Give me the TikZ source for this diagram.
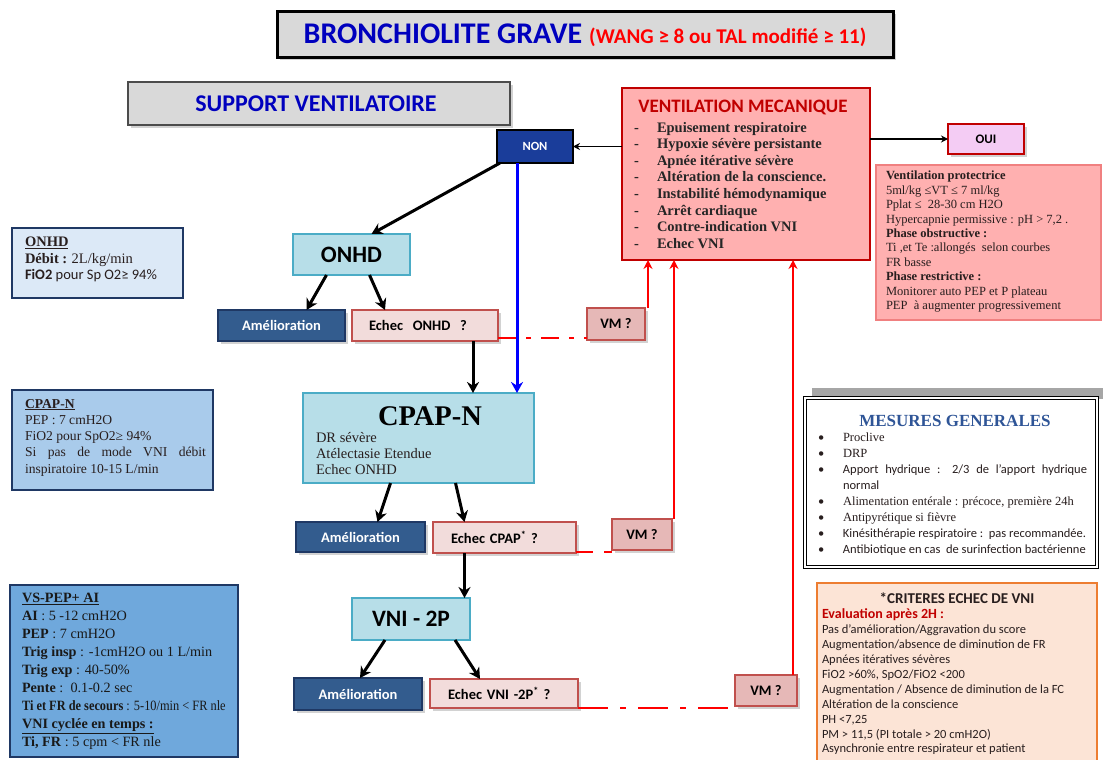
\documentclass[tikz,border=0pt]{standalone}
\usepackage{fontspec}
\usepackage{graphicx}
\setmainfont{Carlito}
\newfontfamily\cam{Liberation Serif}
\usetikzlibrary{arrows.meta,shadows}
\definecolor{tblue}{RGB}{0,0,190}
\definecolor{tred}{RGB}{255,0,0}
\definecolor{dred}{RGB}{192,0,0}
\definecolor{vmfill}{RGB}{255,176,176}
\definecolor{nonfill}{RGB}{26,61,154}
\definecolor{ouifill}{RGB}{244,204,244}
\definecolor{vpfill}{RGB}{255,176,176}
\definecolor{vpdraw}{RGB}{240,128,128}
\definecolor{infofill}{RGB}{220,233,247}
\definecolor{navy}{RGB}{31,56,100}
\definecolor{cyanfill}{RGB}{183,222,232}
\definecolor{cyandraw}{RGB}{75,172,198}
\definecolor{amelfill}{RGB}{51,92,142}
\definecolor{echfill}{RGB}{242,220,219}
\definecolor{echdraw}{RGB}{192,80,77}
\definecolor{vmqfill}{RGB}{230,184,183}
\definecolor{cpapfill}{RGB}{169,203,235}
\definecolor{vsfill}{RGB}{111,168,220}
\definecolor{mesblue}{RGB}{47,85,151}
\definecolor{critfill}{RGB}{252,228,214}
\definecolor{critdraw}{RGB}{237,125,49}
\definecolor{bodytxt}{RGB}{40,30,30}
\begin{document}
\begin{tikzpicture}[x=1pt,y=-1pt,
  shad/.style={drop shadow={shadow xshift=2.5pt,shadow yshift=-2.5pt,fill=black!35}},
  basebox/.style={inner sep=0pt,outer sep=0pt},
  titlebox/.style={basebox,draw=black,fill=black!15,line width=3pt,shad},
  vmbox/.style={basebox,draw=dred,fill=vmfill,line width=2.5pt},
  nonbox/.style={basebox,draw=black,fill=nonfill,line width=1.5pt,text=white,font=\bfseries\fontsize{12.5}{14}\selectfont},
  ouibox/.style={basebox,draw=dred,fill=ouifill,line width=2.5pt,shad,font=\bfseries\fontsize{13}{14}\selectfont},
  vpbox/.style={basebox,draw=vpdraw,fill=vpfill,line width=1.5pt},
  infobox/.style={basebox,draw=navy,line width=2.5pt},
  mainbox/.style={basebox,draw=cyandraw,fill=cyanfill,line width=2pt},
  amelbox/.style={basebox,draw=navy,fill=amelfill,line width=1.5pt,shad,text=white,font=\bfseries\fontsize{14.5}{16}\selectfont},
  echbox/.style={basebox,draw=echdraw,fill=echfill,line width=2pt,shad,inner xsep=17pt,align=left,font=\bfseries\fontsize{14.5}{16}\selectfont},
  vmqbox/.style={basebox,draw=echdraw,fill=vmqfill,line width=2pt,shad,font=\bfseries\fontsize{14.5}{16}\selectfont},
  txt/.style={inner sep=0pt,outer sep=0pt,anchor=north west,align=left,text=bodytxt},
  blk/.style={draw=black,line width=3pt,-{Stealth[length=11pt,width=12pt]}},
  thin/.style={draw=black,line width=1.5pt,-{Stealth[length=7pt,width=7pt]}},
  redup/.style={draw=tred,line width=2.5pt,-{Stealth[length=9pt,width=9pt]}},
  reddd/.style={draw=tred,line width=2.5pt,dash pattern=on 18pt off 10pt on 5pt off 10pt},
]
\useasboundingbox (0,0) rectangle (1103,760);

% title
\node[titlebox,minimum width=616pt,minimum height=46pt] (title) at (585,35)
  {{\color{tblue}\bfseries\fontsize{30}{32}\selectfont BRONCHIOLITE GRAVE}\hspace{7pt}{\color{tred}\bfseries\fontsize{21}{23}\selectfont (WANG ≥ 8 ou TAL modifié ≥ 11)}};

% support ventilatoire
\node[basebox,draw=black!70,fill=black!15,line width=2pt,shad,minimum width=382pt,minimum height=43pt] (support) at (319,103.5) {};
\node[inner sep=0pt,text=tblue,font=\bfseries\fontsize{24}{26}\selectfont] (supporttxt) at (316,104) {SUPPORT VENTILATOIRE};

% ventilation mecanique
\node[vmbox,minimum width=248pt,minimum height=172pt] (vm) at (746,174) {};
\node[inner sep=0pt,text=dred,font=\bfseries\fontsize{19}{21}\selectfont] (vmtitle) at (743,107) {VENTILATION MECANIQUE};
\node[txt,text=black!85,font=\cam\bfseries\fontsize{14.5}{16.6}\selectfont] (vmlist) at (634,122)
  {\makebox[23pt][l]{-}Epuisement respiratoire\\
   \makebox[23pt][l]{-}Hypoxie sévère persistante\\
   \makebox[23pt][l]{-}Apnée itérative sévère\\
   \makebox[23pt][l]{-}Altération de la conscience.\\
   \makebox[23pt][l]{-}Instabilité hémodynamique\\
   \makebox[23pt][l]{-}Arrêt cardiaque\\
   \makebox[23pt][l]{-}Contre-indication VNI\\
   \makebox[23pt][l]{-}Echec VNI};

% NON / OUI
\node[nonbox,minimum width=76pt,minimum height=33pt] (non) at (535,146.5) {NON};
\node[ouibox,minimum width=76pt,minimum height=30pt] (oui) at (986,139) {OUI};

% ventilation protectrice
\node[vpbox,minimum width=225pt,minimum height=155pt] (vp) at (988.5,242.5) {};
\node[txt,font=\cam\fontsize{12.5}{14.45}\selectfont] (vptxt) at (886,171)
  {\textbf{Ventilation protectrice}\\
   5ml/kg ≤VT ≤ 7 ml/kg\\
   Pplat ≤\ \ 28-30 cm H2O\\
   Hypercapnie permissive : pH > 7,2 .\\
   \textbf{Phase obstructive :}\\
   Ti ,et Te :allongés\ \ selon courbes\\
   FR basse\\
   \textbf{Phase restrictive :}\\
   Monitorer auto PEP et P plateau\\
   PEP\ \ à augmenter progressivement};

% ONHD info
\node[infobox,fill=infofill,minimum width=171pt,minimum height=70pt] (onhdinfo) at (97.5,263) {};
\node[txt,font=\fontsize{14.5}{16.5}\selectfont] (onhdinfotxt) at (25,237)
  {{\cam\bfseries\underline{ONHD}}\\
   {\cam\bfseries Débit :} {\cam 2L/kg/min}\\
   \textbf{FiO2} pour Sp O2≥ 94\%};

% ONHD main
\node[mainbox,minimum width=117pt,minimum height=41pt,font=\bfseries\fontsize{23.5}{25}\selectfont] (onhd) at (351.5,254.5) {ONHD};

% row 1
\node[amelbox,minimum width=127pt,minimum height=31pt] (amel1) at (281.5,325.5) {Amélioration};
\node[echbox,text width=112pt,minimum height=31pt] (echec1) at (425,325.5) {Echec\ \ ONHD\ \ ?};
\node[vmqbox,minimum width=58pt,minimum height=32pt] (vmq1) at (616,324) {VM ?};

% CPAP info
\node[infobox,fill=cpapfill,minimum width=201pt,minimum height=100pt] (cpapinfo) at (112.5,440) {};
\node[txt,font=\cam\fontsize{13.6}{16.3}\selectfont] (cpapinfotxt) at (25,399)
  {\textbf{\underline{CPAP-N}}\\
   PEP : 7 cmH2O\\
   FiO2 pour SpO2≥ 94\%\\
   \makebox[181pt][s]{Si pas de mode VNI débit}\\
   inspiratoire 10-15 L/min};

% CPAP main
\node[mainbox,minimum width=231pt,minimum height=90pt] (cpap) at (418.5,438) {};
\node[inner sep=0pt,font=\cam\bfseries\fontsize{28.5}{30}\selectfont] (cpaptitle) at (430,416) {CPAP-N};
\node[txt,font=\cam\fontsize{14.5}{16}\selectfont] (cpaptxt) at (316,432)
  {DR sévère\\ Atélectasie Etendue\\ Echec ONHD};

% row 2
\node[amelbox,minimum width=129pt,minimum height=30pt] (amel2) at (360.5,537) {Amélioration};
\node[echbox,inner xsep=18pt,text width=107pt,minimum height=31pt] (echec2) at (504.5,537.5) {Echec CPAP\textsuperscript{*} ?};
\node[vmqbox,minimum width=60pt,minimum height=31pt] (vmq2) at (642,534.5) {VM ?};

% VNI main
\node[mainbox,minimum width=118pt,minimum height=42pt,font=\bfseries\fontsize{23.5}{25}\selectfont] (vni) at (411,619) {VNI - 2P};

% VS-PEP info
\node[infobox,fill=vsfill,minimum width=228pt,minimum height=172pt] (vsinfo) at (124,671) {};
\node[txt,text=black!90,font=\cam\fontsize{14.2}{18}\selectfont] (vsinfotxt) at (22,593)
  {\textbf{\underline{VS-PEP+ AI}}\\
   \textbf{AI} : 5 -12 cmH2O\\
   \textbf{PEP} : 7 cmH2O\\
   \textbf{Trig insp} : -1cmH2O ou 1 L/min\\
   \textbf{Trig exp} : 40-50\%\\
   \textbf{Pente} :\ \ 0.1-0.2 sec\\
   \scalebox{0.87}[1]{\textbf{Ti et FR de secours} : 5-10/min < FR nle}\\
   \textbf{\underline{VNI cyclée en temps :}}\\
   \textbf{Ti, FR} : 5 cpm < FR nle};

% row 3
\node[amelbox,minimum width=128pt,minimum height=32pt] (amel3) at (358,694) {Amélioration};
\node[echbox,inner xsep=18pt,text width=112pt,minimum height=29pt] (echec3) at (504,693.5) {Echec VNI -2P\textsuperscript{*} ?};
\node[vmqbox,minimum width=62pt,minimum height=31pt] (vmq3) at (766,690.5) {VM ?};

% mesures generales
\fill[black!35] (812,388) rectangle (1103,399);
\node[basebox,draw=black,line width=1.2pt,double=white,double distance=1.6pt,fill=white,minimum width=292pt,minimum height=169pt] (mes) at (951,482.5) {};
\node[inner sep=0pt,text=mesblue,font=\cam\bfseries\fontsize{17}{19}\selectfont] (mestitle) at (955,421) {MESURES GENERALES};
\node[txt,font=\fontsize{12.5}{16}\selectfont] (meslist) at (816,433)
  {\makebox[27pt][l]{\hspace*{2pt}•}{\cam Proclive}\\
   \makebox[27pt][l]{\hspace*{2pt}•}{\cam DRP}\\
   \makebox[27pt][l]{\hspace*{2pt}•}\makebox[244pt][s]{Apport hydrique : 2/3 de l’apport hydrique}\\
   \makebox[27pt][l]{}normal\\
   \makebox[27pt][l]{\hspace*{2pt}•}{\cam Alimentation entérale : précoce, première 24h}\\
   \makebox[27pt][l]{\hspace*{2pt}•}{\cam Antipyrétique si fièvre}\\
   \makebox[27pt][l]{\hspace*{2pt}•}Kinésithérapie respiratoire :\ \ pas recommandée.\\
   \makebox[27pt][l]{\hspace*{2pt}•}Antibiotique en cas\ \ de surinfection bactérienne};

% criteres echec VNI
\node[basebox,draw=critdraw,fill=critfill,line width=2pt,minimum width=280pt,minimum height=182pt] (crit) at (957,674) {};
\node[inner sep=0pt,font=\bfseries\fontsize{15}{16}\selectfont,text=bodytxt] (crittitle) at (957,598) {*CRITERES ECHEC DE VNI};
\node[txt,font=\fontsize{12.5}{14.9}\selectfont] (crittxt) at (822,609)
  {{\color{dred}\bfseries\fontsize{14}{14.9}\selectfont Evaluation après 2H :}\\
   Pas d’amélioration/Aggravation du score\\
   Augmentation/absence de diminution de FR\\
   Apnées itératives sévères\\
   FiO2 >60\%, SpO2/FiO2 <200\\
   Augmentation / Absence de diminution de la FC\\
   Altération de la conscience\\
   PH <7,25\\
   PM > 11,5 (PI totale > 20 cmH2O)\\
   Asynchronie entre respirateur et patient};

% connectors
\draw[thin] (vm.west |- non.east) -- (non.east);
\draw[thin] (vm.east |- oui.west) -- (oui.west);
\draw[blk] ([xshift=3pt]non.south west) -- ([xshift=20pt]onhd.north);
\draw[draw=blue,line width=3pt,-{Stealth[length=11pt,width=12pt]}] ([xshift=-18pt]non.south) -- ([xshift=-18pt]non.south |- cpap.north);

\draw[blk] ([xshift=-25pt]onhd.south) -- ([xshift=25pt]amel1.north);
\draw[blk] ([xshift=18pt]onhd.south) -- ([xshift=-40pt]echec1.north);
\draw[blk] ([xshift=48pt]echec1.south) -- ([xshift=48pt]echec1.south |- cpap.north);

\draw[blk] ([xshift=-28pt]cpap.south) -- ([xshift=17pt]amel2.north);
\draw[blk] ([xshift=37pt]cpap.south) -- ([xshift=-40pt]echec2.north);
\draw[blk] ([xshift=-40pt]echec2.south) -- ([xshift=-40pt]echec2.south |- vni.north);

\draw[blk] ([xshift=-26pt]vni.south) -- ([xshift=2pt]amel3.north);
\draw[blk] ([xshift=44pt]vni.south) -- ([xshift=-24pt]echec3.north);

% red links
\draw[reddd] ([yshift=3pt]echec1.south east) -- ([yshift=3pt]echec1.south east -| vmq1.west);
\draw[reddd,dash pattern=on 17pt off 11pt] ([yshift=1pt]echec2.south east) -- ([yshift=1pt]echec2.south east -| vmq2.west);
\draw[reddd,dash pattern=on 30pt off 12pt on 6pt off 12pt] (echec3.south east) -- (echec3.south east -| vmq3.west);
\draw[redup] ([xshift=3pt]vmq1.north east) -- ([xshift=3pt]vmq1.north east |- vm.south);
\draw[redup] ([xshift=2pt]vmq2.north east) -- ([xshift=2pt]vmq2.north east |- vm.south);
\draw[redup] ([xshift=-4pt]vmq3.north east) -- ([xshift=-4pt]vmq3.north east |- vm.south);
\end{tikzpicture}
\end{document}
